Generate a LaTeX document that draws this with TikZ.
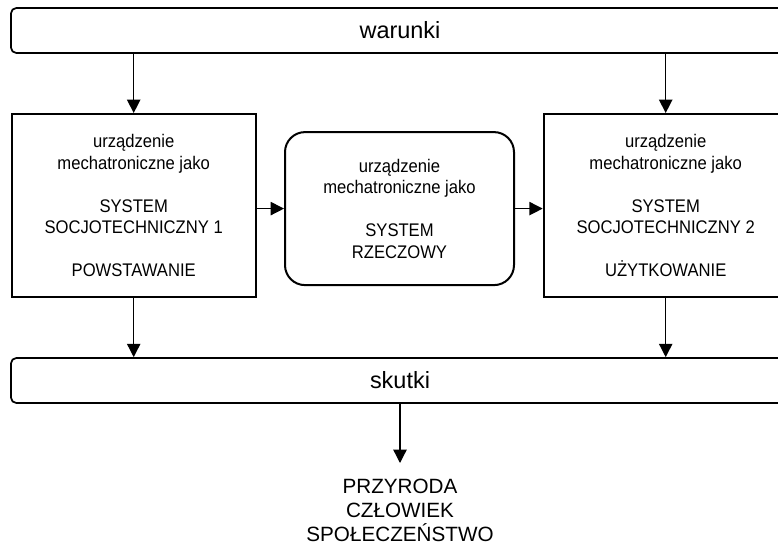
\documentclass[tikz,border=0pt]{standalone}
\usepackage{fontspec}
\setmainfont{Liberation Sans}
\newfontfamily\boxfont{Liberation Sans}[FakeStretch=0.91]
\usetikzlibrary{arrows.meta}

\tikzset{
  bar/.style={draw, line width=1.3pt, rounded corners=4pt,
    minimum width=583.5pt, minimum height=33.75pt, inner sep=0pt,
    font=\fontsize{17.6pt}{21pt}\selectfont},
  stagebox/.style={draw, line width=1.5pt, align=center, inner sep=0pt,
    minimum width=183pt, minimum height=137.25pt,
    font=\boxfont\fontsize{13.7pt}{16.1pt}\selectfont},
  thingbox/.style={stagebox, rounded corners=15pt,
    minimum width=171.75pt, minimum height=114.75pt},
  outcome/.style={align=center, inner xsep=0pt, inner ysep=12pt,
    font=\fontsize{15.5pt}{18pt}\selectfont},
  arr/.style={line width=1pt, -{Triangle[width=10pt,length=10pt]}}
}

\begin{document}
\begin{tikzpicture}[x=0.75pt, y=-0.75pt]
  \useasboundingbox (0,0) rectangle (778,546);

  % conditions and effects bars
  \node[bar] (warunki) at (400,30.5) {warunki};
  \node[bar] (skutki) at (400,380.5) {skutki};

  % the three views of the device
  \node[stagebox] (left) at (133.7,205.5)
    {urządzenie\\mechatroniczne jako\\[16.1pt]SYSTEM\\SOCJOTECHNICZNY 1\\[16.1pt]POWSTAWANIE};
  \node[thingbox] (mid) at (399.5,208.6)
    {urządzenie\\mechatroniczne jako\\[16.1pt]SYSTEM\\RZECZOWY};
  \node[stagebox] (right) at (665.7,205.5)
    {urządzenie\\mechatroniczne jako\\[16.1pt]SYSTEM\\SOCJOTECHNICZNY 2\\[16.1pt]UŻYTKOWANIE};

  % affected areas
  \node[outcome, anchor=north] (nature) at (400,463)
    {PRZYRODA\\CZŁOWIEK\\SPOŁECZEŃSTWO};

  % connectors
  \draw[arr] (warunki.south -| left.north) -- (left.north);
  \draw[arr] (warunki.south -| right.north) -- (right.north);
  \draw[arr] (left.east |- mid.west) -- (mid.west);
  \draw[arr] (mid.east) -- (right.west |- mid.east);
  \draw[arr] (left.south) -- (skutki.north -| left.south);
  \draw[arr] (right.south) -- (skutki.north -| right.south);
  \draw[arr] (skutki.south) -- (nature.north);
\end{tikzpicture}
\end{document}
